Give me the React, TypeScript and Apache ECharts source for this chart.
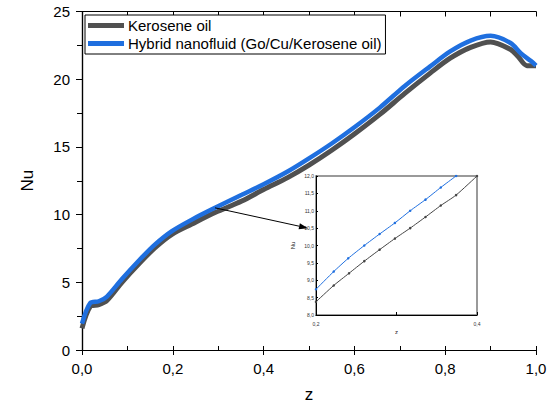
import React, { useEffect, useRef } from "react";
import * as echarts from "echarts";

// Main chart data
const zKerosene = [0, 0.018, 0.037, 0.055, 0.088, 0.128, 0.161, 0.198, 0.242, 0.293, 0.352, 0.4, 0.454, 0.5, 0.55, 0.6, 0.656, 0.711, 0.767, 0.811, 0.856, 0.9, 0.944, 0.96, 0.98, 1.0];
const keroseneMain = [1.6, 3.2, 3.35, 3.66, 5.0, 6.46, 7.56, 8.54, 9.3, 10.15, 11.0, 11.85, 12.75, 13.65, 14.75, 15.95, 17.4, 18.95, 20.45, 21.55, 22.35, 22.75, 22.2, 21.7, 21.0, 21.0];
const zHybrid = [0, 0.018, 0.037, 0.055, 0.088, 0.128, 0.161, 0.198, 0.242, 0.293, 0.352, 0.4, 0.454, 0.5, 0.55, 0.6, 0.656, 0.711, 0.767, 0.811, 0.856, 0.9, 0.944, 0.967, 0.989, 1.0];
const hybridMain = [1.95, 3.46, 3.6, 3.95, 5.24, 6.7, 7.8, 8.78, 9.63, 10.5, 11.46, 12.24, 13.2, 14.15, 15.25, 16.45, 17.9, 19.5, 20.95, 22.05, 22.85, 23.2, 22.67, 21.9, 21.34, 21.0];

// Inset data (zoom of z = 0.2 .. 0.4)
const zInsetKerosene = [0.2, 0.222, 0.241, 0.26, 0.279, 0.298, 0.317, 0.336, 0.355, 0.374, 0.4];
const keroseneInset = [8.38, 8.85, 9.2, 9.55, 9.88, 10.2, 10.5, 10.82, 11.15, 11.45, 12.0];
const zInsetHybrid = [0.2, 0.222, 0.24, 0.26, 0.279, 0.298, 0.317, 0.336, 0.355, 0.374, 0.393];
const hybridInset = [8.74, 9.25, 9.63, 10.0, 10.33, 10.65, 11.0, 11.32, 11.67, 12.0, 12.32];

const seriesNames = ["Kerosene oil", "Hybrid nanofluid (Go/Cu/Kerosene oil)"];
const GRAY = "#505050";
const BLUE = "#1f6fdf";
const FONT = "Liberation Sans";

const pair = (xs: number[], ys: number[]) => xs.map((x, i) => [x, ys[i]]);
const comma1 = (v: number) => v.toFixed(1).replace(".", ",");

export default function App() {
  const ref = useRef<HTMLDivElement>(null);
  useEffect(() => {
    if (!ref.current) return;
    const chart = echarts.init(ref.current, null, { renderer: "svg" });
    const axisLine = { show: true, lineStyle: { color: "#000", width: 1.2 } };
    chart.setOption({
      animation: false,
      textStyle: { fontFamily: FONT },
      legend: {
        data: seriesNames,
        orient: "vertical",
        left: 85,
        top: 15,
        icon: "rect",
        itemWidth: 36,
        itemHeight: 5,
        itemGap: 3,
        padding: [3, 4, 3, 3],
        borderColor: "#000",
        borderWidth: 1,
        backgroundColor: "#fff",
        textStyle: { fontSize: 15, color: "#000", fontFamily: FONT, padding: [0, 0, 0, -1] },
      },
      grid: [
        { left: 82, right: 16, top: 11.5, bottom: 55, show: false },
        { left: 316, top: 176, width: 161, height: 139, show: true, borderColor: "#7a7a7a", borderWidth: 1.5, backgroundColor: "#fff", z: 5 },
      ],
      xAxis: [
        {
          gridIndex: 0, type: "value", min: 0, max: 1, interval: 0.2, position: "bottom",
          name: "z", nameLocation: "middle", nameGap: 36,
          nameTextStyle: { fontSize: 17, color: "#000", fontFamily: FONT },
          axisLine, axisTick: { show: true, inside: false, length: 5, lineStyle: { color: "#000" } },
          axisLabel: { fontSize: 15, color: "#000", margin: 11, formatter: comma1 },
          splitLine: { show: false },
        },
        {
          gridIndex: 0, type: "value", min: 0, max: 1, interval: 0.1, position: "bottom",
          axisLine: { show: false }, axisTick: { show: true, inside: true, length: 4, lineStyle: { color: "#000" } },
          axisLabel: { show: false }, splitLine: { show: false },
        },
        {
          gridIndex: 0, type: "value", min: 0, max: 1, interval: 0.1, position: "top",
          axisLine, axisTick: { show: true, inside: true, length: 5, lineStyle: { color: "#000" } },
          axisLabel: { show: false }, splitLine: { show: false },
        },
        {
          gridIndex: 1, type: "value", min: 0.2, max: 0.4, interval: 0.1, position: "bottom",
          name: "z", nameLocation: "middle", nameGap: 14,
          nameTextStyle: { fontSize: 6, color: "#222", fontFamily: FONT },
          axisLine: { show: true, lineStyle: { color: "#000", width: 1 } },
          axisTick: { show: true, inside: true, length: 3, lineStyle: { color: "#000" } },
          axisLabel: { fontSize: 5, color: "#333", margin: 6, formatter: (v: number) => (Math.abs(v - 0.3) < 1e-6 ? "" : comma1(v)) },
          splitLine: { show: false }, z: 6,
        },
      ],
      yAxis: [
        {
          gridIndex: 0, type: "value", min: 0, max: 25, interval: 5, position: "left",
          name: "Nu", nameLocation: "middle", nameGap: 46,
          nameTextStyle: { fontSize: 17, color: "#000", fontFamily: FONT },
          axisLine, axisTick: { show: true, inside: false, length: 6, lineStyle: { color: "#000" } },
          minorTick: { show: true, splitNumber: 2, length: 4, lineStyle: { color: "#000" } },
          axisLabel: { fontSize: 15, color: "#000", margin: 12 },
          splitLine: { show: false },
        },
        {
          gridIndex: 0, type: "value", min: 0, max: 25, interval: 2.5, position: "right",
          axisLine, axisTick: { show: true, inside: true, length: 5, lineStyle: { color: "#000" } },
          axisLabel: { show: false }, splitLine: { show: false },
        },
        {
          gridIndex: 1, type: "value", min: 8, max: 12, interval: 0.5, position: "left",
          name: "Nu", nameLocation: "middle", nameGap: 20,
          nameTextStyle: { fontSize: 6, color: "#222", fontFamily: FONT },
          axisLine: { show: true, lineStyle: { color: "#000", width: 1 } },
          axisTick: { show: true, inside: true, length: 2, lineStyle: { color: "#000" } },
          axisLabel: { fontSize: 5, color: "#333", margin: 2, formatter: comma1 },
          splitLine: { show: false }, z: 6,
        },
      ],
      series: [
        {
          name: seriesNames[0], type: "line", xAxisIndex: 0, yAxisIndex: 0,
          data: pair(zKerosene, keroseneMain), smooth: 0.3, showSymbol: false,
          lineStyle: { color: GRAY, width: 5 }, itemStyle: { color: GRAY }, z: 2,
        },
        {
          name: seriesNames[1], type: "line", xAxisIndex: 0, yAxisIndex: 0,
          data: pair(zHybrid, hybridMain), smooth: 0.3, showSymbol: false,
          lineStyle: { color: BLUE, width: 4.5 }, itemStyle: { color: BLUE }, z: 3,
        },
        {
          name: "inset-k", type: "line", xAxisIndex: 3, yAxisIndex: 2,
          data: pair(zInsetKerosene, keroseneInset), smooth: 0.2, clip: true,
          symbol: "circle", symbolSize: 2.5, showSymbol: true,
          lineStyle: { color: "#444", width: 1 }, itemStyle: { color: "#444" }, z: 7,
        },
        {
          name: "inset-h", type: "line", xAxisIndex: 3, yAxisIndex: 2,
          data: pair(zInsetHybrid, hybridInset), smooth: 0.2, clip: true,
          symbol: "circle", symbolSize: 2.5, showSymbol: true,
          lineStyle: { color: BLUE, width: 1 }, itemStyle: { color: BLUE }, z: 7,
        },
      ],
    });

    // Arrow from the main curve to the inset
    const start = chart.convertToPixel({ xAxisIndex: 0, yAxisIndex: 0 }, [0.293, 10.5]) as number[];
    const endRaw = chart.convertToPixel({ xAxisIndex: 3, yAxisIndex: 2 }, [0.2, 10.5]) as number[];
    const end = [endRaw[0] - 8, endRaw[1]];
    const dx = end[0] - start[0];
    const dy = end[1] - start[1];
    const len = Math.sqrt(dx * dx + dy * dy);
    const ux = dx / len, uy = dy / len;
    const headL = 9, headW = 3;
    const base = [end[0] - ux * headL, end[1] - uy * headL];
    chart.setOption({
      graphic: [
        {
          type: "line", z: 100,
          shape: { x1: start[0], y1: start[1], x2: base[0], y2: base[1] },
          style: { stroke: "#000", lineWidth: 1 },
        },
        {
          type: "polygon", z: 100,
          shape: {
            points: [
              [end[0], end[1]],
              [base[0] - uy * headW, base[1] + ux * headW],
              [base[0] + uy * headW, base[1] - ux * headW],
            ],
          },
          style: { fill: "#000" },
        },
      ],
    });
    return () => chart.dispose();
  }, []);
  return <div ref={ref} style={{ position: "fixed", left: 0, top: 0, width: 552, height: 408, background: "#fff" }} />;
}
